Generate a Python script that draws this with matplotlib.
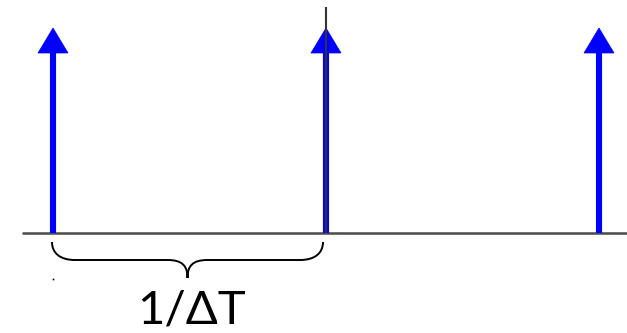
import matplotlib
matplotlib.use("Agg")
import matplotlib.pyplot as plt
from matplotlib.path import Path
from matplotlib.patches import PathPatch, Polygon

# Data: impulse positions (in units of 1/ΔT) and heights
impulse_x = [-1, 0, 1]
impulse_h = [1, 1, 1]
label_text = "1/\u0394T"

W, H = 627, 333
fig = plt.figure(figsize=(W / 100, H / 100), dpi=100)
ax = fig.add_axes([0, 0, 1, 1])
ax.axis("off")

X0, SX = 326.0, 273.0   # pixel of x=0, pixels per unit
Y0, SY = 233.0, 205.0   # pixel of y=0, pixels per unit
def dx(px): return (px - X0) / SX
def dy(py): return (Y0 - py) / SY

ax.set_xlim(dx(0), dx(W))
ax.set_ylim(dy(H), dy(0))

# axes lines
ax.plot([dx(22), dx(W)], [0, 0], color="#4a4a4a", lw=1.8, solid_capstyle="butt", zorder=1)

# impulses
head_len = 25 / SY
head_hw = 15 / SX
for x, h in zip(impulse_x, impulse_h):
    ax.plot([x, x], [0, h - head_len + 0.01], color="#0000ff", lw=4.4,
            solid_capstyle="butt", zorder=2)
    ax.add_patch(Polygon([[x, h], [x - head_hw, h - head_len], [x + head_hw, h - head_len]],
                         closed=True, facecolor="#0000ff", edgecolor="#0000ff", lw=0.5, zorder=2))
# vertical axis on top of the middle impulse
ax.plot([0, 0], [0, dy(7)], color="#333333", lw=1.5, solid_capstyle="butt", zorder=4)

# brace under the interval [-1, 0]
L, R = 52.0, 323.0
C = (L + R) / 2
top, mid, tip = 242.0, 260.0, 278.0
pts_px = [
    (L, top),
    (L, 253), (60, mid), (75, mid),
    (C - 20, mid),
    (C - 5, mid), (C, 266), (C, tip),
    (C, 266), (C + 5, mid), (C + 20, mid),
    (R - 23, mid),
    (R - 8, mid), (R, 253), (R, top),
]
codes = [Path.MOVETO,
         Path.CURVE4, Path.CURVE4, Path.CURVE4,
         Path.LINETO,
         Path.CURVE4, Path.CURVE4, Path.CURVE4,
         Path.CURVE4, Path.CURVE4, Path.CURVE4,
         Path.LINETO,
         Path.CURVE4, Path.CURVE4, Path.CURVE4]
verts = [(dx(px), dy(py)) for px, py in pts_px]
ax.add_patch(PathPatch(Path(verts, codes), facecolor="none", edgecolor="black", lw=1.4))

# tiny dot
ax.plot([dx(53)], [dy(279)], marker="s", ms=1.2, color="black", mew=0)

# label
ax.text(dx(191), dy(311), label_text, ha="center", va="center", fontsize=34,
        family=["Lato", "DejaVu Sans"], color="black")

fig.savefig("out.png", dpi=100)
